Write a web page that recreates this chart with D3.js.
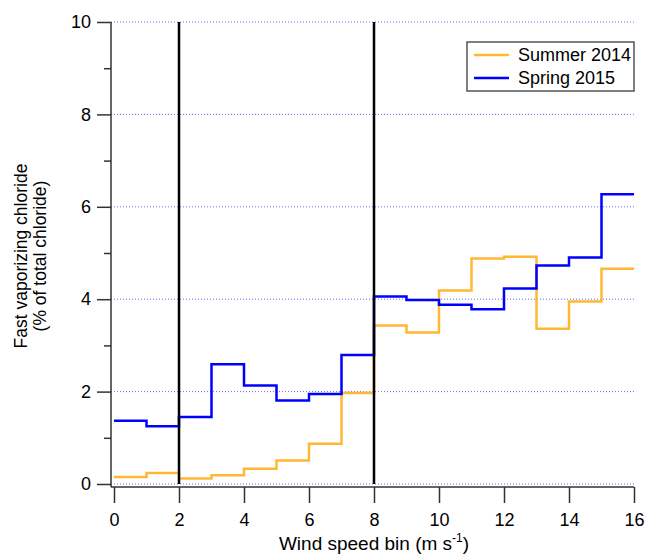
<!DOCTYPE html>
<html>
<head>
<meta charset="utf-8">
<script src="https://cdn.jsdelivr.net/npm/d3@7"></script>
<style>
  html, body { margin: 0; padding: 0; background: #fff; }
  svg { display: block; font-family: "Liberation Sans", Arial, sans-serif; }
</style>
</head>
<body>
<div id="chart"></div>
<script>
// --- DATA ---
const binStarts = [0, 1, 2, 3, 4, 5, 6, 7, 8, 9, 10, 11, 12, 13, 14, 15];
const binWidth = 1;
const summer2014 = [0.15, 0.24, 0.12, 0.19, 0.33, 0.51, 0.87, 1.97, 3.43, 3.28, 4.19, 4.88, 4.92, 3.36, 3.95, 4.66];
const spring2015 = [1.37, 1.25, 1.45, 2.59, 2.13, 1.81, 1.95, 2.79, 4.06, 3.98, 3.88, 3.78, 4.23, 4.73, 4.90, 6.27];
const markerLines = [2, 8];
const xTicks = [0, 2, 4, 6, 8, 10, 12, 14, 16];
const yTicks = [0, 2, 4, 6, 8, 10];
const yMinorTicks = [1, 3, 5, 7, 9];
const seriesNames = ["Summer 2014", "Spring 2015"];
const seriesColors = ["#ffb833", "#0000ff"];

// --- LAYOUT ---
const WIDTH = 646, HEIGHT = 554;
const x = d3.scaleLinear().domain([0, 16]).range([114, 634]);
const y = d3.scaleLinear().domain([0, 10]).range([484, 22]);
const AXIS_X = 111;   // y axis sits a little left of x=0
const AXIS_Y = 487;   // x axis sits a little below y=0

const svg = d3.select("#chart").append("svg")
    .attr("width", WIDTH)
    .attr("height", HEIGHT);

// grid lines (dotted blue)
svg.append("g")
    .selectAll("line")
    .data(yTicks)
    .join("line")
    .attr("x1", AXIS_X)
    .attr("x2", x.range()[1])
    .attr("y1", d => y(d))
    .attr("y2", d => y(d))
    .attr("stroke", "#6b6bff")
    .attr("stroke-width", 1)
    .attr("stroke-dasharray", "1,2");

// step series
const stepLine = d3.line()
    .x(d => x(d[0]))
    .y(d => y(d[1]))
    .curve(d3.curveStepAfter);

function stepPoints(values) {
    const pts = binStarts.map((b, i) => [b, values[i]]);
    pts.push([binStarts[binStarts.length - 1] + binWidth, values[values.length - 1]]);
    return pts;
}

[summer2014, spring2015].forEach((vals, i) => {
    svg.append("path")
        .attr("d", stepLine(stepPoints(vals)))
        .attr("fill", "none")
        .attr("stroke", seriesColors[i])
        .attr("stroke-width", 2.5);
});

// vertical black marker lines
svg.append("g")
    .selectAll("line")
    .data(markerLines)
    .join("line")
    .attr("x1", d => x(d))
    .attr("x2", d => x(d))
    .attr("y1", y(10))
    .attr("y2", y(0))
    .attr("stroke", "#000")
    .attr("stroke-width", 2.5);

// --- AXES ---
const yAxis = svg.append("g")
    .attr("transform", `translate(${AXIS_X},0)`)
    .call(d3.axisLeft(y).tickValues(yTicks).tickSize(14).tickPadding(6).tickFormat(d3.format("d")));
yAxis.select(".domain").remove();

const yMinor = svg.append("g")
    .attr("transform", `translate(${AXIS_X},0)`)
    .call(d3.axisLeft(y).tickValues(yMinorTicks).tickSize(7).tickFormat(""));
yMinor.select(".domain").remove();

const xAxis = svg.append("g")
    .attr("transform", `translate(0,${AXIS_Y})`)
    .call(d3.axisBottom(x).tickValues(xTicks).tickSize(16).tickPadding(10).tickFormat(d3.format("d")));
xAxis.select(".domain").remove();

svg.selectAll(".tick line").attr("stroke", "#333").attr("stroke-width", 1.5);
svg.selectAll(".tick text")
    .attr("fill", "#000")
    .style("font-size", "18px")
    .style("font-family", "'Liberation Sans', Arial, sans-serif");

// axis lines
svg.append("line")
    .attr("x1", AXIS_X).attr("x2", AXIS_X)
    .attr("y1", y(10)).attr("y2", AXIS_Y)
    .attr("stroke", "#333").attr("stroke-width", 1.5);
svg.append("line")
    .attr("x1", AXIS_X).attr("x2", x(16))
    .attr("y1", AXIS_Y).attr("y2", AXIS_Y)
    .attr("stroke", "#333").attr("stroke-width", 1.5);

// axis titles
const xTitle = svg.append("text")
    .attr("x", (x.range()[0] + x.range()[1]) / 2)
    .attr("y", 550)
    .attr("text-anchor", "middle")
    .style("font-size", "19px");
xTitle.append("tspan").text("Wind speed bin (m s");
xTitle.append("tspan").attr("dy", -8).style("font-size", "12px").text("-1");
xTitle.append("tspan").attr("dy", 8).text(")");

const yTitle = svg.append("text")
    .attr("transform", `translate(21,256) rotate(-90)`)
    .attr("text-anchor", "middle")
    .style("font-size", "17.5px");
yTitle.append("tspan").attr("x", 0).attr("dy", "0.35em").text("Fast vaporizing chloride");
yTitle.append("tspan").attr("x", 0).attr("dy", 19).text("(% of total chloride)");

// --- LEGEND ---
const legend = svg.append("g").attr("transform", "translate(467,42)");
legend.append("rect")
    .attr("width", 167).attr("height", 49)
    .attr("fill", "#fff")
    .attr("stroke", "#555")
    .attr("stroke-width", 1.5);
seriesNames.forEach((name, i) => {
    const row = legend.append("g").attr("transform", `translate(0,${13 + i * 23})`);
    row.append("line")
        .attr("x1", 7).attr("x2", 42)
        .attr("stroke", seriesColors[i])
        .attr("stroke-width", 2.5);
    row.append("text")
        .attr("x", 51)
        .attr("dy", "0.35em")
        .style("font-size", "18px")
        .text(name);
});
</script>
</body>
</html>
